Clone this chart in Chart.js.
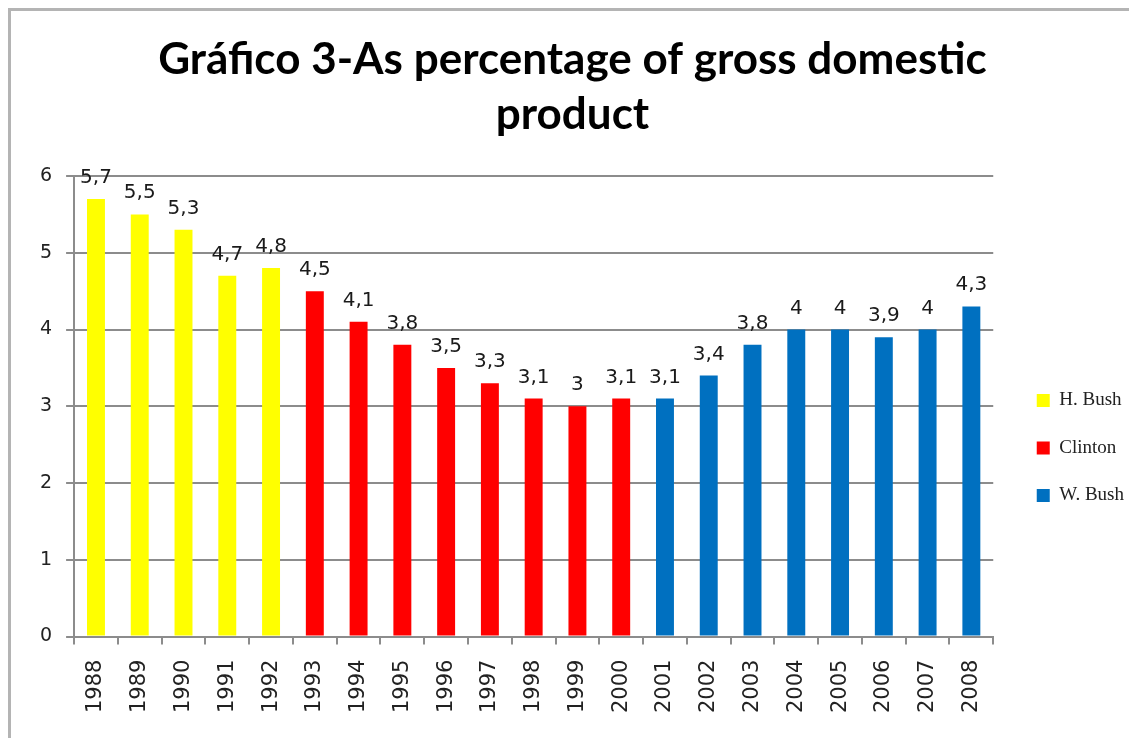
<!DOCTYPE html>
<html lang="en">
<head>
    <meta charset="UTF-8">
    <title>Gráfico 3</title>
    <style>
        html, body { margin: 0; padding: 0; background: white; }
        #wrap { position: relative; width: 1129px; height: 738px; overflow: hidden; }
        #frame {
            position: absolute; left: 8px; top: 8px; width: 1200px; height: 800px;
            border-left: 3px solid #b4b4b4; border-top: 3px solid #b4b4b4;
        }
        canvas { position: absolute; left: 0; top: 0; }
    </style>
    <script src="https://cdn.jsdelivr.net/npm/chart.js"></script>
</head>
<body>
<div id="wrap">
    <div id="frame"></div>
    <canvas id="gdpChart" width="1129" height="738"></canvas>
</div>
<script>
    // years and values
    var years = ['1988', '1989', '1990', '1991', '1992', '1993', '1994', '1995', '1996', '1997', '1998',
                 '1999', '2000', '2001', '2002', '2003', '2004', '2005', '2006', '2007', '2008'];
    var hBush   = [5.7, 5.5, 5.3, 4.7, 4.8, null, null, null, null, null, null, null, null, null, null, null, null, null, null, null, null];
    var clinton = [null, null, null, null, null, 4.5, 4.1, 3.8, 3.5, 3.3, 3.1, 3, 3.1, null, null, null, null, null, null, null, null];
    var wBush   = [null, null, null, null, null, null, null, null, null, null, null, null, null, 3.1, 3.4, 3.8, 4, 4, 3.9, 4, 4.3];
    var yTicks = [0, 1, 2, 3, 4, 5, 6];

    var labelFont = '20px "DejaVu Sans", Verdana, sans-serif';

    // writes each value above its bar, with a decimal comma
    var valueLabels = {
        id: 'valueLabels',
        afterDatasetsDraw: function (chart) {
            var ctx = chart.ctx;
            ctx.save();
            ctx.font = labelFont;
            ctx.fillStyle = '#1a1a1a';
            ctx.textAlign = 'center';
            ctx.textBaseline = 'alphabetic';
            chart.data.datasets.forEach(function (ds, i) {
                var meta = chart.getDatasetMeta(i);
                meta.data.forEach(function (bar, j) {
                    var v = ds.data[j];
                    if (v === null) return;
                    ctx.fillText(String(v).replace('.', ','), bar.x, bar.y - 16);
                });
            });
            ctx.restore();
        }
    };

    // the legend sits a little lower and further right than chart.js puts it
    var legendNudge = {
        id: 'legendNudge',
        beforeDraw: function (chart) {
            var lg = chart.legend;
            var dx = 15, dy = 84;
            lg.left += dx; lg.right += dx;
            lg.top += dy; lg.bottom += dy;
        }
    };

    var gray = '#8c8c8c';

    new Chart(document.getElementById('gdpChart'), {
        type: 'bar',
        data: {
            labels: years,
            datasets: [
                { label: 'H. Bush', data: hBush, backgroundColor: '#ffff00' },
                { label: 'Clinton', data: clinton, backgroundColor: '#ff0000' },
                { label: 'W. Bush', data: wBush, backgroundColor: '#0070c0' }
            ]
        },
        options: {
            responsive: false,
            animation: false,
            datasets: { bar: { categoryPercentage: 1, barPercentage: 0.41 } },
            layout: { padding: { left: 26, right: 10, top: 0, bottom: 10 } },
            plugins: {
                tooltip: { enabled: false },
                title: {
                    display: true,
                    text: ['Gráfico 3-As percentage of gross domestic', 'product'],
                    color: '#000',
                    font: { family: 'Lato, "Open Sans", sans-serif', size: 44, weight: 'bold', lineHeight: 1.25 },
                    padding: { top: 32, bottom: 34 }
                },
                legend: {
                    position: 'right',
                    labels: {
                        boxWidth: 13,
                        boxHeight: 13,
                        padding: 28.5,
                        color: '#222',
                        font: { family: '"Liberation Serif", "Times New Roman", serif', size: 19 }
                    }
                }
            },
            scales: {
                x: {
                    stacked: true,
                    grid: { drawOnChartArea: false, drawTicks: true, tickLength: 8, color: gray, lineWidth: 2 },
                    border: { display: true, color: gray, width: 2 },
                    ticks: {
                        minRotation: 90, maxRotation: 90, padding: 15,
                        color: '#222', font: { family: '"DejaVu Sans", Verdana, sans-serif', size: 21 }
                    }
                },
                y: {
                    stacked: true,
                    min: 0, max: 6,
                    afterBuildTicks: function (axis) {
                        axis.ticks = yTicks.map(function (v) { return { value: v }; });
                    },
                    grid: { color: gray, lineWidth: 2, tickLength: 8 },
                    border: { display: true, color: gray, width: 2 },
                    ticks: {
                        padding: 14,
                        color: '#222', font: { family: '"DejaVu Sans", Verdana, sans-serif', size: 19 }
                    }
                }
            }
        },
        plugins: [valueLabels, legendNudge]
    });
</script>
</body>
</html>
